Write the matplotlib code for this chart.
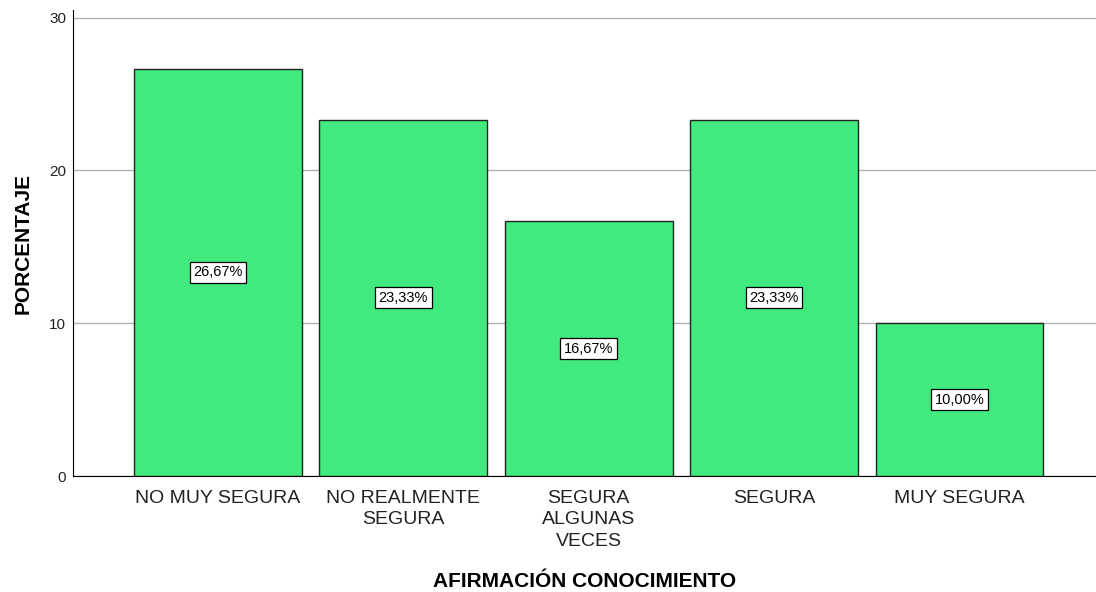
import numpy as np
import matplotlib.pyplot as plt

plt.rcParams['font.family'] = ['Liberation Sans', 'DejaVu Sans']

categories = ['NO MUY SEGURA', 'NO REALMENTE\nSEGURA', 'SEGURA\nALGUNAS\nVECES', 'SEGURA', 'MUY SEGURA']
values = [26.67, 23.33, 16.67, 23.33, 10.00]
labels = ['26,67%', '23,33%', '16,67%', '23,33%', '10,00%']

fig = plt.figure(figsize=(10.96, 5.92), dpi=100)
ax = fig.add_axes([73/1096, 1-476/592, 1-73/1096, (476-10)/592])

x = np.arange(len(categories))
ax.bar(x, values, width=0.905, color='#40ea7e', edgecolor='#222222', linewidth=1.0, zorder=3)
for xi, v, lab in zip(x, values, labels):
    ax.text(xi, v/2, lab, ha='center', va='center', fontsize=10.5, zorder=4,
            bbox=dict(boxstyle='square,pad=0.25', fc='white', ec='black', lw=0.9))

ax.set_xlim(-0.782, 4.736)
ax.set_ylim(0, 30.5)
ax.set_yticks([0, 10, 20, 30])
ax.yaxis.grid(True, color='#b0b0b0', linewidth=1.0, zorder=0)
ax.set_xticks(x)
ax.set_xticklabels(categories, fontsize=14, color='#222222', linespacing=1.35)
ax.tick_params(axis='x', length=0, pad=10)
ax.tick_params(axis='y', length=0, pad=5, labelsize=11, labelcolor='#222222')
for s in ['top', 'right']:
    ax.spines[s].set_visible(False)
ax.spines['left'].set_color('black')
ax.spines['bottom'].set_color('black')
ax.set_ylabel('PORCENTAJE', fontsize=15, fontweight='bold', labelpad=12)
ax.set_xlabel('AFIRMACIÓN CONOCIMIENTO', fontsize=15, fontweight='bold', labelpad=16)

fig.savefig('out.png', dpi=100)
